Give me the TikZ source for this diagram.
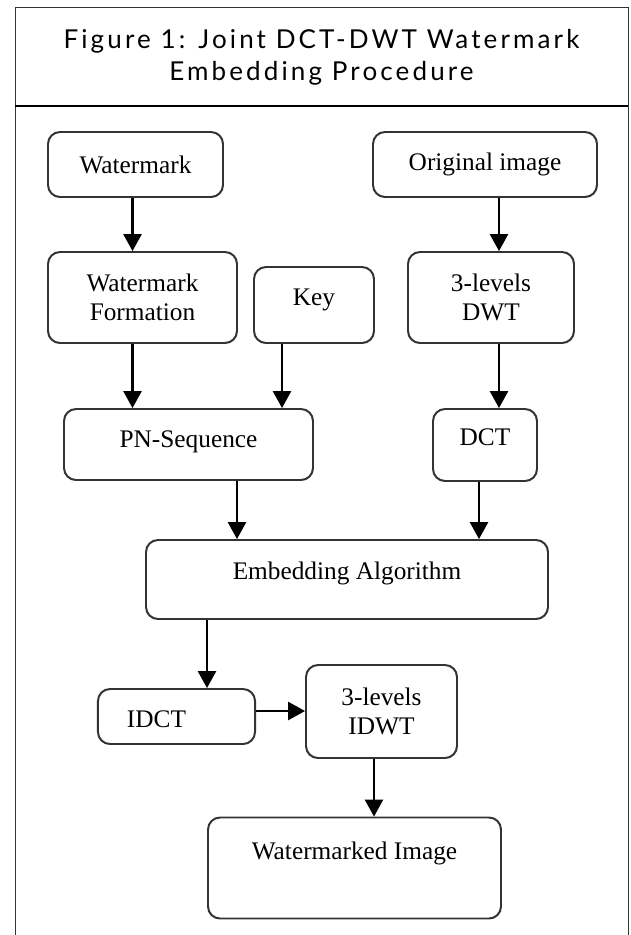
\documentclass[tikz,border=0pt]{standalone}
\usepackage{fontspec}
\setmainfont{Liberation Serif}
\newfontfamily\headfont{Lato}[LetterSpace=12]
\usetikzlibrary{arrows.meta}

\tikzset{
  box/.style={draw=black!80, line width=1.4pt, rounded corners=0.3cm,
              align=center, inner sep=0pt, font=\fontsize{18}{21}\selectfont},
  sz/.style 2 args={minimum width=#1*0.025cm, minimum height=#2*0.025cm},
  arr/.style={line width=1.5pt, -{Triangle[width=0.45cm, length=0.42cm]}},
}

\begin{document}
\begin{tikzpicture}[x=0.025cm, y=-0.025cm]
  \useasboundingbox (0,0) rectangle (631,935);

  % ---------- frame and heading ----------
  \draw[black!80, line width=0.7pt] (15,935) -- (15,7) -- (628,7) -- (628,935);
  \draw[line width=1.5pt] (15,106) -- (628,106);
  \node[font=\headfont\fontsize{18.5}{22.8}\selectfont, align=center] (head) at (321.5,57.5)
       {Figure 1: Joint DCT-DWT Watermark\\Embedding Procedure};

  % ---------- boxes ----------
  \node[box, sz={175}{65}] (wm)   at (135.5,164.5) {Watermark};
  \node[box, sz={224}{65}] (orig) at (485,164.5)   {Original image};
  \node[box, sz={189}{91}] (wmf)  at (142.5,297.5) {Watermark\\Formation};
  \node[box, sz={120}{76}, text height=0.45cm, text depth=0.405cm] (key) at (314,305) {Key};
  \node[box, sz={166}{91}] (dwt)  at (491,297.5)   {3-levels\\DWT};
  \node[box, sz={249}{71}, text height=0.45cm, text depth=0.305cm] (pn) at (188.5,444.5) {PN-Sequence};
  \node[box, sz={104}{72}, text height=0.45cm, text depth=0.43cm] (dct) at (485,445) {DCT};
  \node[box, sz={402}{79}, text height=0.45cm, text depth=0.43cm] (emb) at (347,579.5) {Embedding Algorithm};
  \node[box, sz={157}{55}, align=left, text width=2.475cm, inner xsep=0.725cm,
        text height=0.6cm, text depth=0.03cm] (idct) at (176.5,716.5) {IDCT};
  \node[box, sz={151}{93}] (idwt) at (381.5,711.5) {3-levels\\IDWT};
  \node[box, sz={293}{101}, text height=0.45cm, text depth=0.855cm] (wmi) at (354.5,868) {Watermarked Image};

  % ---------- arrow columns ----------
  \coordinate (cwm)  at (132.5,0);
  \coordinate (ckey) at (282,0);
  \coordinate (corg) at (499,0);
  \coordinate (cpn)  at (237,0);
  \coordinate (cdct) at (479,0);
  \coordinate (cemb) at (207,0);
  \coordinate (cout) at (374,0);
  \coordinate (rinv) at (0,711);

  % ---------- arrows ----------
  \draw[arr] (wm.south -| cwm)    -- (wmf.north -| cwm);
  \draw[arr] (wmf.south -| cwm)   -- (pn.north -| cwm);
  \draw[arr] (key.south -| ckey)  -- (pn.north -| ckey);
  \draw[arr] (orig.south -| corg) -- (dwt.north -| corg);
  \draw[arr] (dwt.south -| corg)  -- (dct.north -| corg);
  \draw[arr] (pn.south -| cpn)    -- (emb.north -| cpn);
  \draw[arr] (dct.south -| cdct)  -- (emb.north -| cdct);
  \draw[arr] (emb.south -| cemb)  -- (idct.north -| cemb);
  \draw[arr] (idct.east |- rinv)  -- (idwt.west |- rinv);
  \draw[arr] (idwt.south -| cout) -- (wmi.north -| cout);

\end{tikzpicture}
\end{document}
